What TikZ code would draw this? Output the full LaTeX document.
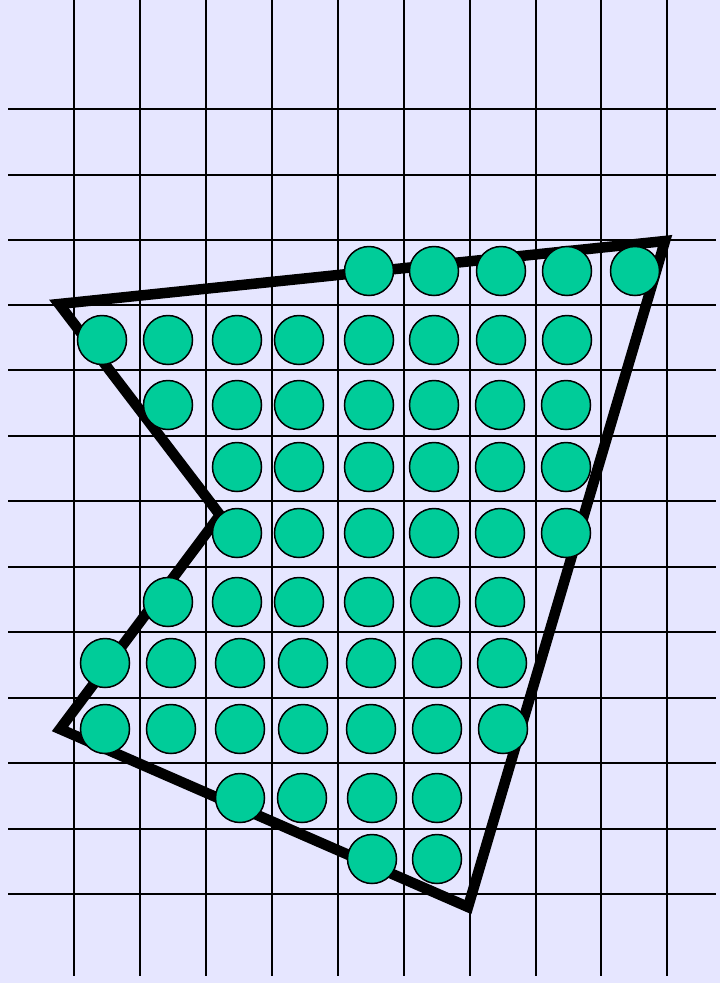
\documentclass[tikz,border=0pt]{standalone}
\definecolor{paper}{RGB}{230,230,255}
\definecolor{pixelgreen}{RGB}{0,204,153}
\begin{document}
\begin{tikzpicture} [x = 1pt, y = -1pt,
	gridline/.style = {line width = 2pt},
	edge/.style = {line width = 10.5pt, line join = miter},
	pixel/.style = {circle, draw, line width = 1.5pt, fill = pixelgreen, minimum size = 49pt, inner sep = 0pt}]
	\fill [paper] (0,0) rectangle (720,983);
	\useasboundingbox (0,0) rectangle (720,983);
	% grid
	\foreach \x in {74,140,206,272,338,404,470,536,601,667}
		\draw [gridline] (\x,0) -- (\x,976);
	\foreach \y in {109,175,240,305,370,436,501,567,632,698,763,829,894}
		\draw [gridline] (8,\y) -- (716,\y);
	% polygon
	\coordinate (p1) at (59,304);
	\coordinate (p2) at (665,241);
	\coordinate (p3) at (468,907);
	\coordinate (p4) at (60,729);
	\coordinate (p5) at (220,515);
	\draw [edge] (p1) -- (p2) -- (p3) -- (p4) -- (p5) -- cycle;
	% pixels inside
	\foreach \x [count = \i] in {369,434,501,567,635}
		\node [pixel] (ra\i) at (\x,271) {};
	\foreach \x [count = \i] in {102,168,237,299,369,434,501,567}
		\node [pixel] (rb\i) at (\x,340) {};
	\foreach \x [count = \i] in {168,237,299,369,434,500,566}
		\node [pixel] (rc\i) at (\x,405) {};
	\foreach \x [count = \i] in {237,299,369,434,500,566}
		\node [pixel] (rd\i) at (\x,467) {};
	\foreach \x [count = \i] in {237,299,369,434,500,566}
		\node [pixel] (re\i) at (\x,533) {};
	\foreach \x [count = \i] in {168,237,299,369,435,500}
		\node [pixel] (rf\i) at (\x,602) {};
	\foreach \x [count = \i] in {105,171,240,303,371,437,502}
		\node [pixel] (rg\i) at (\x,663) {};
	\foreach \x [count = \i] in {105,171,240,303,371,437,503}
		\node [pixel] (rh\i) at (\x,729) {};
	\foreach \x [count = \i] in {240,302,372,437}
		\node [pixel] (ri\i) at (\x,798) {};
	\foreach \x [count = \i] in {372,437}
		\node [pixel] (rj\i) at (\x,859) {};
\end{tikzpicture}
\end{document}
